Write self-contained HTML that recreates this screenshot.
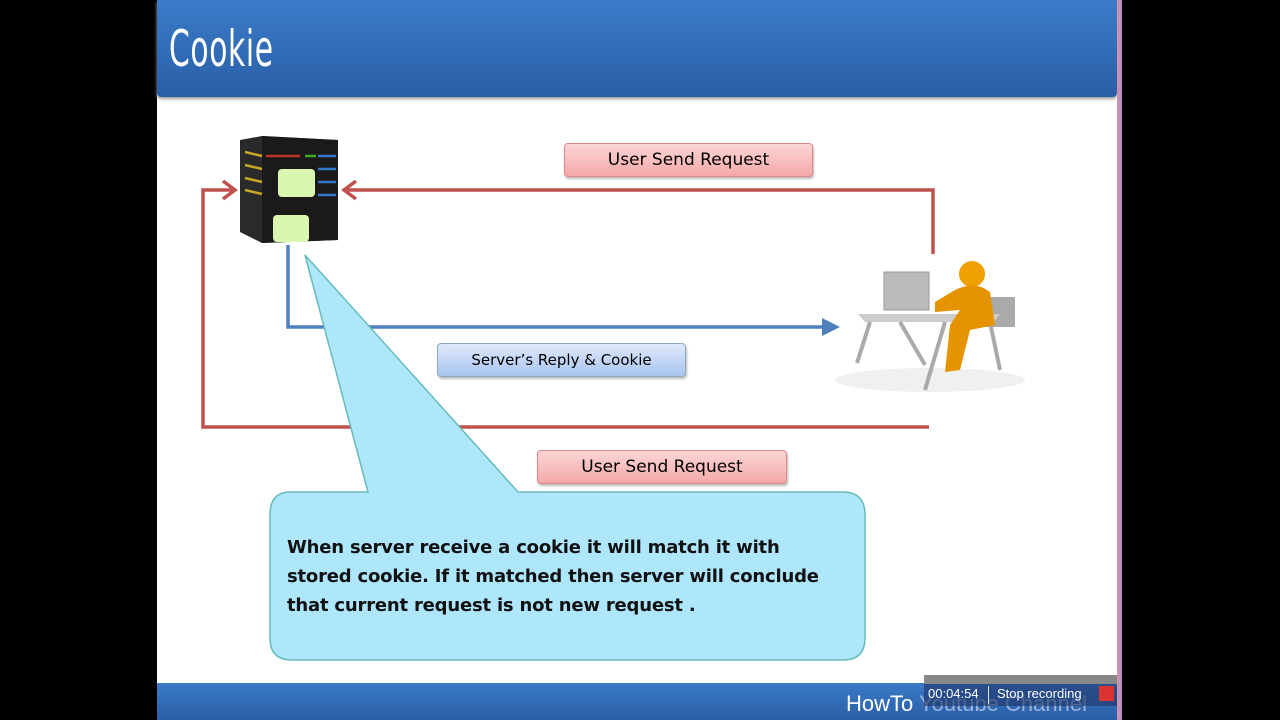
<!DOCTYPE html>
<html><head><meta charset="utf-8"><style>
body{margin:0;width:1280px;height:720px;background:#000;position:relative;overflow:hidden;font-family:"Liberation Sans",sans-serif}
.slide{position:absolute;left:157px;top:0;width:960px;height:720px;background:#fff}
.hdr{position:absolute;left:157px;top:0;width:960px;height:97px;background:linear-gradient(#3b7bc8,#2a5ea6);border-radius:0 0 4px 4px;box-shadow:0 2px 3px #999}
.hdr span{position:absolute;left:12px;top:20px;color:#fff;font-size:50px;font-family:"DejaVu Sans Condensed","Liberation Sans Narrow",sans-serif;transform:scaleX(.66);transform-origin:left;letter-spacing:1px}
.ftr{position:absolute;left:157px;top:683px;width:960px;height:37px;background:linear-gradient(#3b7bc8,#2a5ea6)}
.strip{position:absolute;left:1117px;top:0;width:5px;height:720px;background:linear-gradient(90deg,#c9a,#b8c)}
.lbl{position:absolute;border-radius:4px;font-size:17px;text-align:center;box-shadow:1px 2px 2px #bbb;font-family:"DejaVu Sans","Liberation Sans",sans-serif}
.red{background:linear-gradient(#fcd6d6,#f5a8a8);border:1px solid #d88;color:#000}
.blue{background:linear-gradient(#dfe9fb,#a9c4f0);border:1px solid #8ab;font-size:15px}
</style></head><body>
<div class="slide"></div>
<div class="hdr"><span>Cookie</span></div>
<svg style="position:absolute;left:0;top:0" width="1280" height="720">
<g fill="none" stroke-width="3.5">
<path d="M933 254V190H346" stroke="#c0504d"/>
<path d="M356 181L344 190L356 199" stroke="#c0504d"/>
<path d="M929 427H203V190H234" stroke="#c0504d"/>
<path d="M223 181L235 190L223 199" stroke="#c0504d"/>
<path d="M288 245V327H834" stroke="#4f81bd"/>
</g>
<polygon points="822,318 840,327 822,336" fill="#4f81bd"/>
<path d="M305 255L368 492H290Q270 492 270 515V638Q270 660 292 660H843Q865 660 865 638V515Q865 492 843 492H518Z" fill="#aee6fb" stroke="#6bb" stroke-width="1.5"/>
<polygon points="240,140 262,136 338,140 338,240 262,243 240,232" fill="#2a2a2a"/>
<polygon points="262,136 338,140 338,240 262,243" fill="#1a1a1a"/>
<g stroke-width="2.5"><line x1="245" y1="152" x2="262" y2="156" stroke="#c9a825"/><line x1="266" y1="156" x2="300" y2="156" stroke="#b32"/><line x1="305" y1="156" x2="316" y2="156" stroke="#4a2"/><line x1="318" y1="156" x2="336" y2="156" stroke="#37c"/>
<line x1="245" y1="165" x2="262" y2="169" stroke="#c9a825"/><line x1="318" y1="169" x2="336" y2="169" stroke="#37c"/>
<line x1="245" y1="178" x2="262" y2="182" stroke="#c9a825"/><line x1="318" y1="182" x2="336" y2="182" stroke="#37c"/>
<line x1="245" y1="190" x2="262" y2="194" stroke="#c9a825"/><line x1="318" y1="195" x2="336" y2="195" stroke="#37c"/></g>
<rect x="278" y="169" width="37" height="28" rx="4" fill="#d9f7b0"/>
<rect x="273" y="215" width="36" height="27" rx="4" fill="#d9f7b0"/>
<ellipse cx="930" cy="380" rx="95" ry="12" fill="#f0f0f0"/>
<rect x="884" y="272" width="45" height="38" fill="#bbb" stroke="#999"/>
<rect x="985" y="297" width="30" height="30" fill="#aaa"/>
<polygon points="858,314 1000,314 994,322 865,322" fill="#ccc"/>
<g stroke="#aaa" stroke-width="4"><line x1="870" y1="322" x2="857" y2="363"/><line x1="945" y1="322" x2="925" y2="390"/><line x1="990" y1="322" x2="1000" y2="370"/><line x1="900" y1="322" x2="925" y2="365"/></g>
<circle cx="972" cy="274" r="13" fill="#f0a000"/>
<path d="M955 290Q975 280 990 292L995 325L970 330L960 370L945 372L950 325L960 310L935 312L935 302Z" fill="#e59400"/>
</svg>
<div class="lbl red" style="left:564px;top:143px;width:247px;height:32px;line-height:32px">User Send Request</div>
<div class="lbl red" style="left:537px;top:450px;width:248px;height:32px;line-height:32px">User Send Request</div>
<div class="lbl blue" style="left:437px;top:343px;width:247px;height:32px;line-height:32px">Server’s Reply &amp; Cookie</div>
<div style="position:absolute;left:287px;top:533px;font-size:18px;font-weight:bold;line-height:29px;color:#111;font-family:'DejaVu Sans','Liberation Sans',sans-serif;letter-spacing:-0.2px">When server receive a cookie it will match it with<br>stored cookie. If it matched then server will conclude<br>that current request is not new request .</div>
<div class="ftr"><span style="position:absolute;left:689px;top:8px;color:#fff;font-size:22px">HowTo <span style="color:#9bb4d8">Youtube Channel</span></span></div>
<div style="position:absolute;left:924px;top:675px;width:193px;height:9px;background:#888"></div>
<div style="position:absolute;left:924px;top:684px;width:193px;height:22px;background:rgba(30,50,100,.6);color:#fff;font-size:13px;line-height:20px"><span style="margin-left:4px">00:04:54</span><span style="position:absolute;left:64px;top:2px;width:1px;height:18px;background:#ddd"></span><span style="position:absolute;left:73px">Stop recording</span><span style="position:absolute;left:175px;top:2px;width:15px;height:15px;background:#d33"></span></div>
<div class="strip"></div>
</body></html>
